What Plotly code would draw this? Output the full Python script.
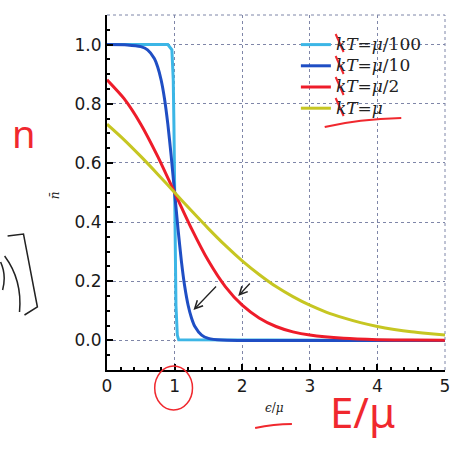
import plotly.graph_objects as go

# ---- data ----
x_cyan = [0.0, 0.9, 0.96, 0.98, 0.99, 1.0, 1.01, 1.02, 1.04, 1.06, 5.0]
y_cyan = [1.0, 1.0, 0.982, 0.881, 0.731, 0.5, 0.269, 0.119, 0.018, 0.002, 0.0]

x_blue = [0.0, 0.3, 0.5, 0.6, 0.7, 0.75, 0.8, 0.85, 0.9, 0.95, 1.0, 1.05, 1.1,
          1.15, 1.2, 1.25, 1.3, 1.4, 1.5, 1.7, 2.0, 5.0]
y_blue = [1.0, 0.999, 0.993, 0.982, 0.953, 0.924, 0.881, 0.818, 0.731, 0.622,
          0.5, 0.378, 0.269, 0.182, 0.119, 0.076, 0.047, 0.018, 0.007, 0.001, 0.0, 0.0]

x_red = [0.0, 0.25, 0.5, 0.75, 1.0, 1.25, 1.5, 1.75, 2.0, 2.25, 2.5, 2.75,
         3.0, 3.5, 4.0, 4.5, 5.0]
y_red = [0.881, 0.818, 0.731, 0.622, 0.5, 0.378, 0.269, 0.182, 0.119, 0.076,
         0.047, 0.029, 0.018, 0.007, 0.0025, 0.001, 0.0003]

x_yel = [0.0, 0.25, 0.5, 0.75, 1.0, 1.25, 1.5, 1.75, 2.0, 2.25, 2.5, 2.75,
         3.0, 3.25, 3.5, 3.75, 4.0, 4.25, 4.5, 4.75, 5.0]
y_yel = [0.731, 0.679, 0.622, 0.562, 0.5, 0.438, 0.378, 0.321, 0.269, 0.223,
         0.182, 0.148, 0.119, 0.095, 0.076, 0.060, 0.047, 0.037, 0.029, 0.023, 0.018]

series_labels = ["kT=μ/100", "kT=μ/10", "kT=μ/2", "kT=μ"]
series_colors = ["#3cb6e6", "#1f4ec4", "#ee1c2a", "#c6c622"]
series_shapes = ["linear", "spline", "spline", "spline"]

x_ticks = [0, 1, 2, 3, 4, 5]
y_ticks = [0.0, 0.2, 0.4, 0.6, 0.8, 1.0]
y_tick_labels = ["0.0", "0.2", "0.4", "0.6", "0.8", "1.0"]

# ---- figure ----
L, R, T, B, W, H = 107, 15, 15, 80, 462, 450
PW, PH = W - L - R, H - T - B


def px(x):
    return (x - L) / PW


def py(y):
    return (H - B - y) / PH


def legend_label(s):
    lhs, rhs = s.split("=")
    rhs = rhs.replace("μ", "<i>μ</i>")
    return f'<span style="font-size:17px"><i>{lhs}</i>={rhs}</span>'


fig = go.Figure()
for xs, ys, name, col, shp in zip([x_cyan, x_blue, x_red, x_yel],
                                  [y_cyan, y_blue, y_red, y_yel],
                                  series_labels, series_colors, series_shapes):
    fig.add_trace(go.Scatter(x=xs, y=ys, mode="lines", name=legend_label(name),
                             line=dict(color=col, width=3, shape=shp, smoothing=0.6)))

grid = dict(showgrid=True, gridcolor="#7f86a8", griddash="dot", gridwidth=1)
fig.update_xaxes(range=[0, 5], tickvals=x_ticks, ticks="inside", ticklen=6,
                 tickwidth=1.5, tickcolor="black", showline=True, linecolor="black",
                 linewidth=2, zeroline=False,
                 minor=dict(dtick=0.2, ticks="inside", ticklen=3, tickcolor="black",
                            showgrid=False),
                 tickfont=dict(family="DejaVu Sans", size=17, color="#1a1a1a"),
                 **grid)
fig.update_yaxes(range=[-0.1, 1.1], tickvals=y_ticks, ticktext=y_tick_labels,
                 ticks="inside", ticklen=6, tickwidth=1.5, tickcolor="black",
                 showline=True, linecolor="black", linewidth=2, zeroline=False,
                 minor=dict(dtick=0.05, tick0=0, ticks="inside", ticklen=3,
                            tickcolor="black", showgrid=False),
                 tickfont=dict(family="DejaVu Sans", size=17, color="#1a1a1a"),
                 **grid)

shapes = []
# dotted top and right frame
shapes.append(dict(type="line", xref="paper", yref="paper", x0=0, x1=1, y0=1, y1=1,
                   line=dict(color="#7f86a8", width=1, dash="dot")))
shapes.append(dict(type="line", xref="paper", yref="paper", x0=1, x1=1, y0=0, y1=1,
                   line=dict(color="#7f86a8", width=1, dash="dot")))

red = "#f0282e"
# handwritten red circle around "1"
shapes.append(dict(type="circle", xref="paper", yref="paper",
                   x0=px(155), x1=px(193), y0=py(366), y1=py(410),
                   line=dict(color=red, width=1.5)))
# red underline under x label
shapes.append(dict(type="path", xref="paper", yref="paper",
                   path=f"M {px(256)} {py(428)} Q {px(275)} {py(424)} {px(293)} {py(424)}",
                   line=dict(color=red, width=2)))
# red underline below legend
shapes.append(dict(type="path", xref="paper", yref="paper",
                   path=f"M {px(326)} {py(127)} Q {px(360)} {py(119)} {px(403)} {py(118)}",
                   line=dict(color=red, width=2)))
# red strikes over k in legend
for yy in [43, 65, 86, 107]:
    shapes.append(dict(type="line", xref="paper", yref="paper",
                       x0=px(337), y0=py(yy - 9), x1=px(345), y1=py(yy + 9),
                       line=dict(color=red, width=2)))
# black handwritten bracket and arc on the left
shapes.append(dict(type="path", xref="paper", yref="paper",
                   path=(f"M {px(7)} {py(236)} L {px(23)} {py(234)} "
                         f"Q {px(30)} {py(270)} {px(37)} {py(307)} L {px(24)} {py(315)}"),
                   line=dict(color="#222", width=1.5)))
shapes.append(dict(type="path", xref="paper", yref="paper",
                   path=f"M {px(4)} {py(256)} Q {px(22)} {py(280)} {px(19)} {py(312)}",
                   line=dict(color="#222", width=1.5)))
shapes.append(dict(type="path", xref="paper", yref="paper",
                   path=f"M {px(0)} {py(262)} Q {px(6)} {py(275)} {px(2)} {py(290)}",
                   line=dict(color="#222", width=1.5)))

annotations = []
C = dict(xanchor="center", yanchor="middle", showarrow=False)
# axis labels
annotations.append(dict(xref="paper", yref="paper", x=px(275), y=py(408),
                        text="<i>ϵ</i>/<i>μ</i>",
                        font=dict(family="DejaVu Serif", size=12, color="#222"), **C))
annotations.append(dict(xref="paper", yref="paper", x=px(55), y=py(195),
                        text="<i>n̄</i>", textangle=-90,
                        font=dict(family="DejaVu Serif", size=12, color="#222"), **C))
# handwritten red notes
annotations.append(dict(xref="paper", yref="paper", x=px(23), y=py(133),
                        text="n",
                        font=dict(family="Noto Sans", size=38, color=red), **C))
annotations.append(dict(xref="paper", yref="paper", x=px(364), y=py(411),
                        text="E/μ",
                        font=dict(family="Noto Sans", size=42, color=red), **C))
# handwritten black arrows
annotations.append(dict(xref="paper", yref="paper", axref="pixel", ayref="pixel",
                        x=px(194), y=py(310), ax=24, ay=-25, text="",
                        showarrow=True, arrowhead=5, arrowsize=1.2, arrowwidth=1.3,
                        arrowcolor="#222"))
annotations.append(dict(xref="paper", yref="paper", axref="pixel", ayref="pixel",
                        x=px(239), y=py(296), ax=13, ay=-14, text="",
                        showarrow=True, arrowhead=5, arrowsize=1.2, arrowwidth=1.3,
                        arrowcolor="#222"))

fig.update_layout(
    width=W, height=H,
    margin=dict(l=L, r=R, t=T, b=B),
    paper_bgcolor="white", plot_bgcolor="white",
    shapes=shapes, annotations=annotations,
    legend=dict(x=px(297), y=py(29), xanchor="left", yanchor="top",
                bgcolor="rgba(0,0,0,0)", borderwidth=0,
                font=dict(family="DejaVu Serif", size=14, color="#222"),
                tracegroupgap=0, itemwidth=30),
)

fig.write_html("out.html", config={"displayModeBar": False},
               post_script="document.body.style.margin='0';document.body.style.overflow='hidden';")
